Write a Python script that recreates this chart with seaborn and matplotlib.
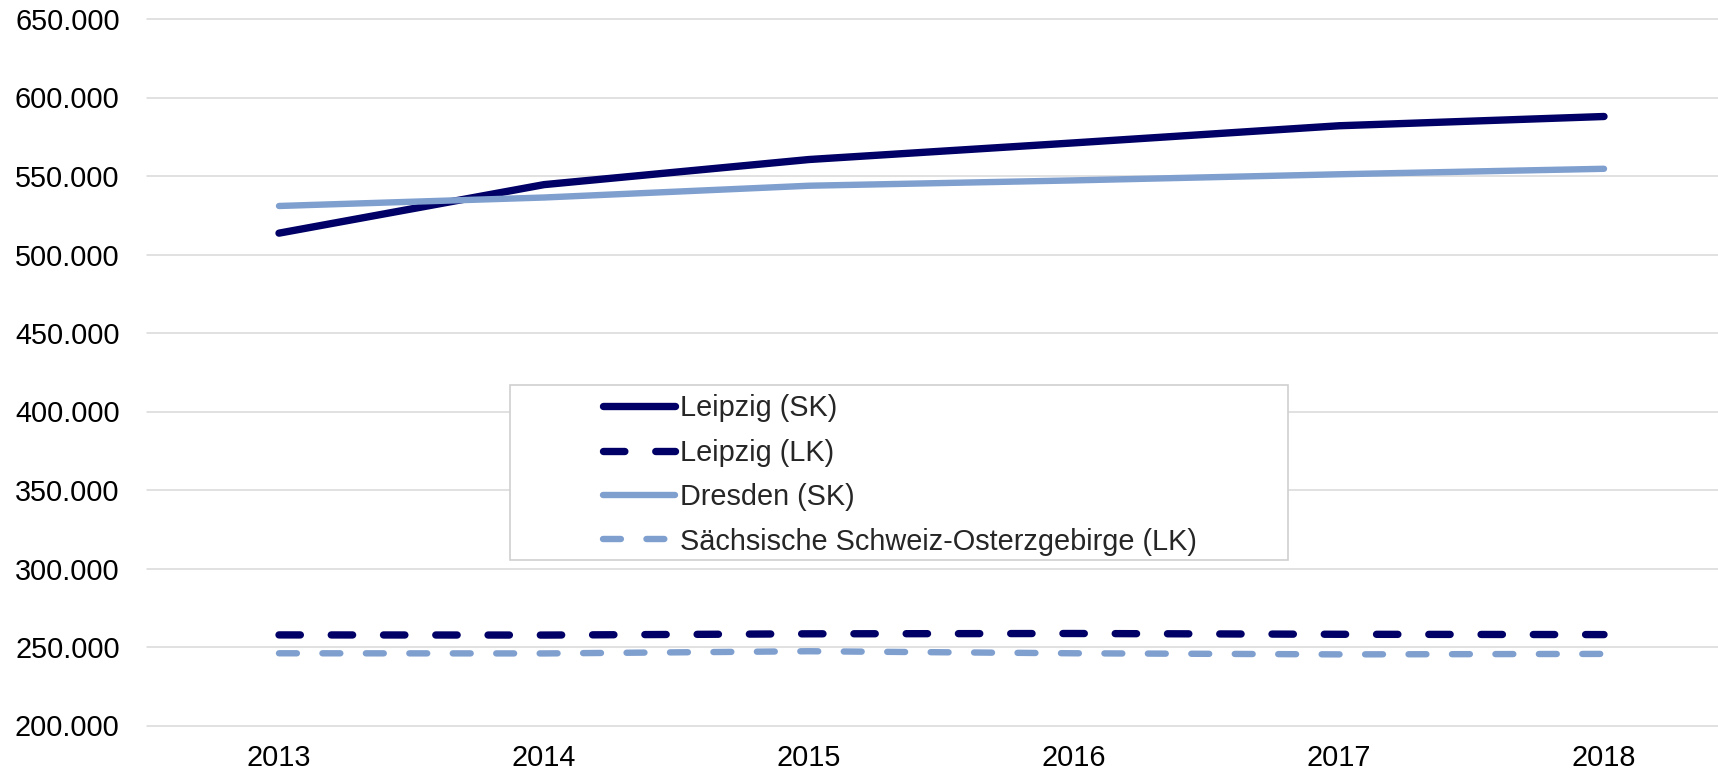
import matplotlib
matplotlib.use("Agg")
import matplotlib.pyplot as plt
import matplotlib.ticker as mticker
from matplotlib.patches import Rectangle
import seaborn as sns
import pandas as pd

years = [2013, 2014, 2015, 2016, 2017, 2018]
series = ["Leipzig (SK)", "Leipzig (LK)", "Dresden (SK)", "Sächsische Schweiz-Osterzgebirge (LK)"]
leipzig_sk = [513600, 544500, 560500, 571100, 582000, 587900]
leipzig_lk = [257700, 257600, 258400, 258600, 258100, 257900]
dresden_sk = [530900, 536300, 543800, 547200, 551100, 554600]
sso_lk = [246000, 245900, 247300, 246000, 245300, 245600]
yticks = list(range(200000, 650001, 50000))

values = {
    series[0]: leipzig_sk,
    series[1]: leipzig_lk,
    series[2]: dresden_sk,
    series[3]: sso_lk,
}
rows = []
for name in series:
    for yr, v in zip(years, values[name]):
        rows.append({"Jahr": yr, "Wert": v, "Reihe": name})
df = pd.DataFrame(rows)

DARK = "#000066"
LIGHT = "#7f9fcf"
palette = {series[0]: DARK, series[1]: DARK, series[2]: LIGHT, series[3]: LIGHT}
dashes = {series[0]: "", series[1]: (2.9, 4.2), series[2]: "", series[3]: (2.8, 4.0)}
widths = [5.3, 5.3, 4.6, 4.6]

sns.set_theme(style="white")
plt.rcParams["font.family"] = ["Liberation Sans", "DejaVu Sans"]

W, H = 1718, 775
fig = plt.figure(figsize=(W / 100, H / 100), dpi=100)
ax = fig.add_axes([146.5 / W, 1 - 725.5 / H, (1736.5 - 146.5) / W, (725.5 - 19) / H])

sns.lineplot(data=df, x="Jahr", y="Wert", hue="Reihe", style="Reihe",
             hue_order=series, style_order=series, palette=palette,
             dashes=dashes, linewidth=4.5, legend=False, ax=ax,
             dash_capstyle="round", solid_capstyle="round")
for line, lw in zip(ax.lines, widths):
    line.set_linewidth(lw)

ax.set_xlim(2012.5, 2018.5)
ax.set_ylim(200000, 650000)
ax.set_yticks(yticks)
ax.set_xticks(years)
ax.yaxis.set_major_formatter(mticker.FuncFormatter(lambda v, p: f"{int(v):,}".replace(",", ".")))
ax.set_xlabel("")
ax.set_ylabel("")
ax.set_axisbelow(True)
ax.yaxis.grid(True, color="#d9d9d9", linewidth=1.1)
ax.xaxis.grid(False)
for gl in ax.get_ygridlines():
    gl.set_clip_on(False)
for s in ax.spines.values():
    s.set_visible(False)
ax.tick_params(axis="y", length=0, pad=19.3, labelsize=20.8, labelcolor="black")
ax.tick_params(axis="x", length=0, pad=13.5, labelsize=20.8, labelcolor="black")

# legend frame
frame = Rectangle((510 / W, 1 - 560 / H), 778 / W, 175 / H,
                  transform=fig.transFigure, facecolor="white",
                  edgecolor="#d0d0d0", linewidth=1.2, zorder=5, clip_on=False)
ax.add_patch(frame)
leg = ax.legend(ax.lines, series, loc="upper left",
                bbox_to_anchor=(602.5 / W, 1 - 394.2 / H), bbox_transform=fig.transFigure,
                frameon=False, fontsize=20.8, borderpad=0, borderaxespad=0,
                handlelength=2.5, handletextpad=0.18, labelspacing=0.57)
leg.set_zorder(10)

fig.savefig("out.png", dpi=100)
